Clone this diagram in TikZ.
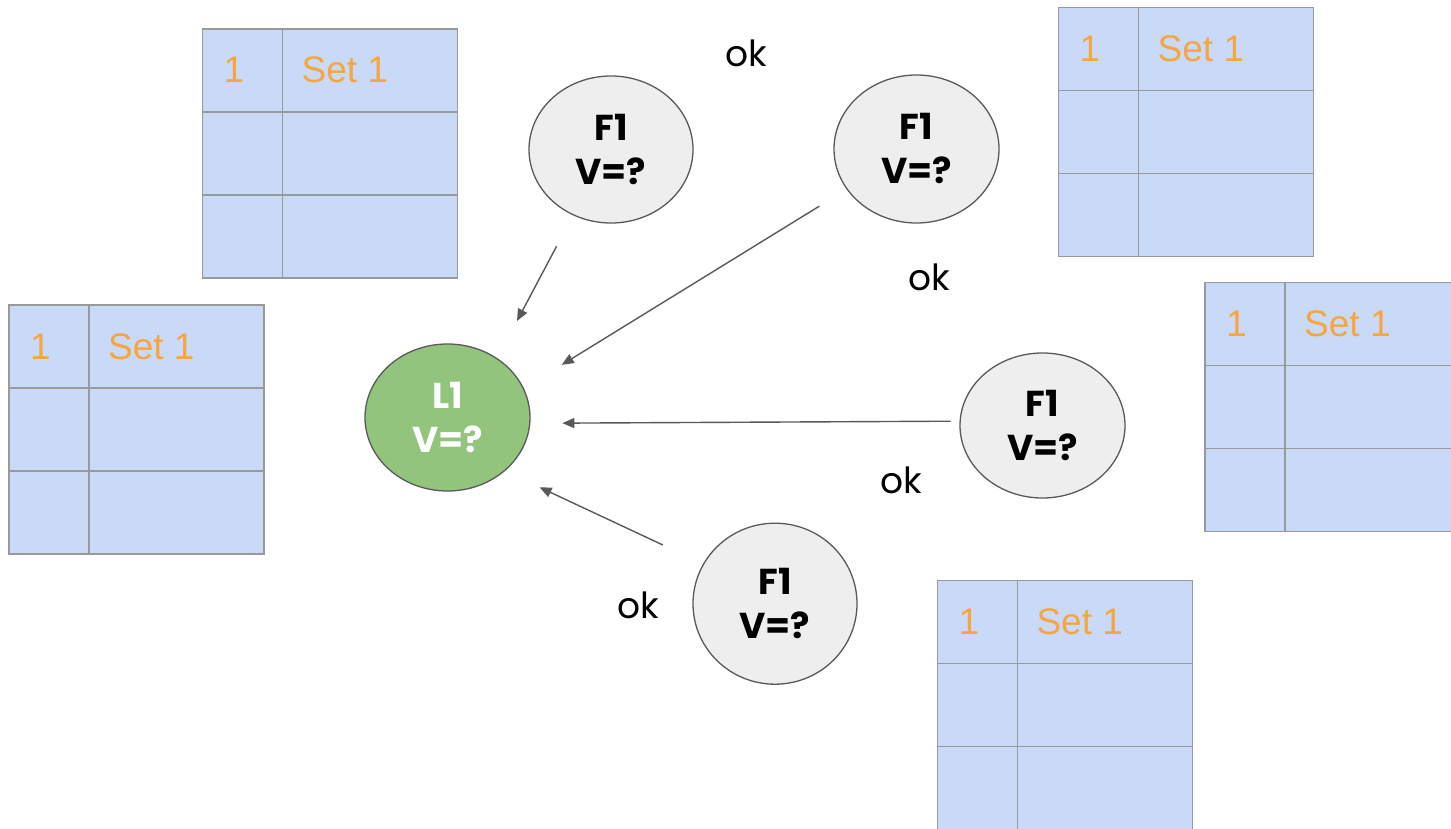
\documentclass[tikz,border=0pt]{standalone}
\usepackage{fontspec}
\setmainfont{Liberation Sans}
\newfontfamily\popfont{Poppins}
\usetikzlibrary{arrows.meta,shapes.geometric}

\definecolor{tablefill}{HTML}{C9DAF8}
\definecolor{tableline}{HTML}{999999}
\definecolor{setorange}{HTML}{F7A53F}
\definecolor{nodegray}{HTML}{EEEEEE}
\definecolor{nodegreen}{HTML}{93C47D}
\definecolor{edgegray}{HTML}{595959}

\begin{document}
\begin{tikzpicture}[x=1pt, y=-1pt,
  tablebox/.style={draw=tableline, line width=1.5pt},
  celltext/.style={anchor=base west, inner sep=0pt, text=setorange,
    font=\fontsize{37}{40}\selectfont},
  replica/.style={ellipse, draw=edgegray, line width=1.3pt, fill=nodegray,
    inner sep=0pt, align=center,
    font=\popfont\bfseries\fontsize{36}{44}\selectfont},
  leader/.style={replica, fill=nodegreen, text=white},
  okmark/.style={anchor=base, inner sep=0pt, font=\popfont\fontsize{36}{38}\selectfont},
  flow/.style={draw=edgegray, line width=1.4pt, -{Triangle[length=12pt,width=10pt]}}]

  \useasboundingbox (0,0) rectangle (1451,829);
  \begin{scope}
  \clip (0,0) rectangle (1451,829);

  % Log tables
  \foreach \tx/\ty/\tn in {202.5/29/ta, 9/305/tb, 1058.5/7.5/tc, 1205/282.3/td, 937.3/580.5/te} {
    \fill[tablefill] (\tx,\ty) rectangle ++(255,249);
    \draw[tablebox] (\tx,\ty) rectangle ++(255,249);
    \draw[tablebox] (\tx,\ty+83) -- ++(255,0) (\tx,\ty+166) -- ++(255,0)
      (\tx+80,\ty) -- ++(0,249);
    \node[celltext] (\tn-num) at (\tx+21,\ty+54) {1};
    \node[celltext] (\tn-set) at (\tx+99,\ty+54) {Set 1};
  }
  \end{scope}

  % Leader and followers
  \node[leader, minimum width=165pt, minimum height=147pt] (l1) at (447.5,417.5) {L1\\V=?};
  \node[replica, minimum width=164pt, minimum height=147pt] (f1a) at (611,149.5) {F1\\V=?};
  \node[replica, minimum width=165pt, minimum height=148pt] (f1b) at (916.5,149) {F1\\V=?};
  \node[replica, minimum width=165pt, minimum height=145pt] (f1c) at (1042.5,425.5) {F1\\V=?};
  \node[replica, minimum width=164pt, minimum height=161pt] (f1d) at (775,603.7) {F1\\V=?};

  % Replies
  \draw[flow, shorten <=35pt, shorten >=42pt] (f1a.240.5) -- (l1.50.9);
  \draw[flow, shorten <=32pt, shorten >=44.5pt] (f1b.210.2) -- (l1.21.1);
  \draw[flow, shorten <=9pt, shorten >=32pt] (f1c.177.6) -- (l1.356.9);
  \draw[flow, shorten <=44.4pt, shorten >=38.2pt] (f1d.151.8) -- (l1.317);

  % Acks
  \node[okmark] (oka) at (746.5,66.7) {ok};
  \node[okmark] (okb) at (929.5,290) {ok};
  \node[okmark] (okc) at (901.5,493) {ok};
  \node[okmark] (okd) at (638.3,618.3) {ok};
\end{tikzpicture}
\end{document}
